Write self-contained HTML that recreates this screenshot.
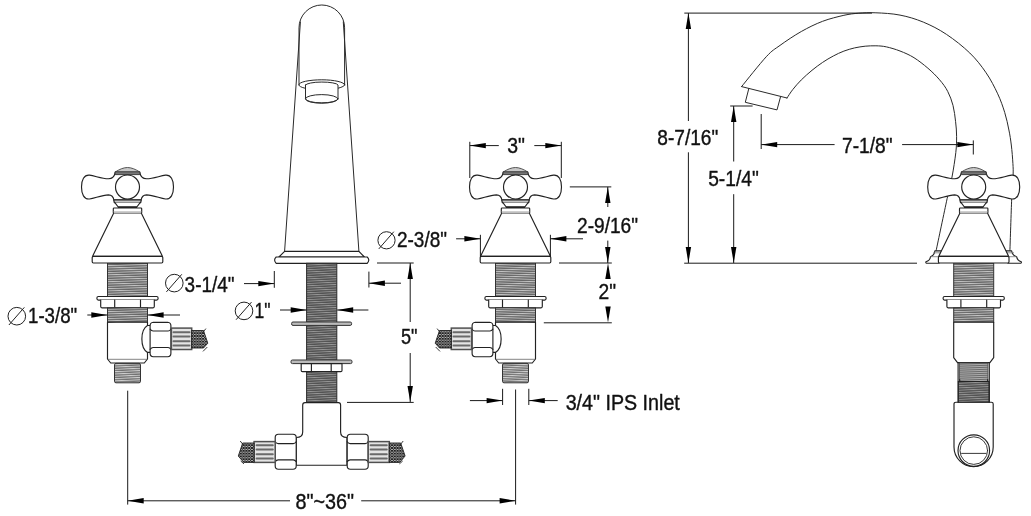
<!DOCTYPE html>
<html><head><meta charset="utf-8"><title>Faucet dimensions</title>
<style>
html,body{margin:0;padding:0;background:#fff;}
body{width:1031px;height:516px;overflow:hidden;font-family:"Liberation Sans",sans-serif;}
svg{display:block;filter:grayscale(1)}
.o{fill:#fff;stroke:#222;stroke-width:1.15;stroke-linejoin:round;stroke-linecap:round}
.n{fill:none;stroke:#222;stroke-width:1.15;stroke-linejoin:round;stroke-linecap:round}
.sp{fill:none;stroke:#2a2a2a;stroke-width:1;stroke-linecap:round}
.lt{fill:none;stroke:#777;stroke-width:0.8}
.wh{fill:none;stroke:#222;stroke-width:0.9}
.k{stroke:#666;stroke-width:1.4}
.k2{stroke:#222;stroke-width:1.6}
.g{fill:#777;stroke:#333;stroke-width:0.9;stroke-linejoin:round}
.dl{stroke:#1a1a1a;stroke-width:1;fill:none}
.ah{fill:#000;stroke:none}
.dia{fill:none;stroke:#222;stroke-width:1}
.th{fill:url(#thr);stroke:#333;stroke-width:1}
.th2{fill:url(#thr2);stroke:#333;stroke-width:1}
.th3{fill:url(#thr3);stroke:#444;stroke-width:0.8}
.thd{fill:url(#thrd);stroke:#2a2a2a;stroke-width:1}
.kn{fill:#e4e4e4;stroke:#505050;stroke-width:1.5}
.knb{stroke:#6a6a6a;stroke-width:2;fill:none;stroke-linecap:round}
.hose{fill:url(#braid);stroke:#222;stroke-width:0.9}
text{font-family:"Liberation Sans",sans-serif;fill:#111;stroke:#111;stroke-width:0.4;stroke-linejoin:round}
</style></head><body>
<svg width="1031" height="516" viewBox="0 0 1031 516">
<defs>
<pattern id="thr" width="60" height="2.3" patternUnits="userSpaceOnUse" patternTransform="rotate(-1.6)">
<rect width="60" height="2.3" fill="#666"/><rect y="0" width="60" height="0.95" fill="#c4c4c4"/>
</pattern>
<pattern id="thrd" width="60" height="2.3" patternUnits="userSpaceOnUse" patternTransform="rotate(-2.6)">
<rect width="60" height="2.3" fill="#525252"/><rect y="0" width="60" height="0.9" fill="#969696"/>
</pattern>
<pattern id="thr2" width="60" height="2.3" patternUnits="userSpaceOnUse" patternTransform="rotate(-2.5)">
<rect width="60" height="2.3" fill="#707070"/><rect y="0" width="60" height="1" fill="#d0d0d0"/>
</pattern>
<pattern id="thr3" width="60" height="2" patternUnits="userSpaceOnUse" patternTransform="rotate(-2)">
<rect width="60" height="2" fill="#6a6a6a"/><rect y="0" width="60" height="0.9" fill="#b4b4b4"/>
</pattern>
<pattern id="braid" width="2.8" height="2.8" patternUnits="userSpaceOnUse">
<rect width="2.8" height="2.8" fill="#fff"/><path d="M-0.5 -0.5 L3.3 3.3 M3.3 -0.5 L-0.5 3.3" stroke="#111" stroke-width="0.95"/>
</pattern>

<g id="vtop">
<path class="o" d="M-12.3 172.6 C-13 176 -15 178.6 -19 178.8 C-26 178.6 -32 176 -38 175.1 C-43.5 174.6 -46 180 -46 186.9 C-46 194 -43.5 199.6 -38 199 C-32 198 -26 195.2 -19 194.9 C-15.5 195 -14 197.5 -13.6 200 L13.6 200 C14 197.5 15.5 195 19 194.9 C26 195.2 32 198 38 199 C43.5 199.6 46 194 46 186.9 C46 180 43.5 174.6 38 175.1 C32 176 26 178.6 19 178.8 C15 178.6 13 176 12.3 172.6 Z"/>
<path class="o" style="fill:#c8c8c8;stroke:#444;stroke-width:0.9" d="M-12.3 172 C-8 169.2 -4 167.6 0 167.5 C4 167.6 8 169.2 12.3 172 Z"/>
<path class="g" d="M-12.4 174.6 L-12.4 171.8 L12.4 171.8 L12.4 174.6 Z"/>
<circle class="o" cx="0" cy="187" r="12"/>
<path class="o" style="stroke-width:1.2;fill:#c4c4c4" d="M-13.8 199.8 L13.8 199.8 L13.2 202.6 L-13.2 202.6 Z"/>
<path class="o" d="M-12.8 202.4 L-9.3 207 L9.3 207 L12.8 202.4"/>
<line class="k2" x1="-9.6" y1="207.2" x2="9.6" y2="207.2"/>
<rect class="o" x="-14.2" y="208" width="28.4" height="5.4" rx="0.8"/>
<line class="lt" x1="-14" y1="211.8" x2="14" y2="211.8" style="stroke:#aaa"/>
<path class="o" d="M-14 213.4 L-35 256.4 L35 256.4 L14 213.4"/>
<rect class="o" x="-35.3" y="256.4" width="70.6" height="6.6" rx="1.2"/>
</g>
<g id="vlow">
<rect class="th" x="-20" y="263" width="40" height="33.5"/>
<rect class="o" x="-30.6" y="296.5" width="61.2" height="3.6" rx="1.5"/>
<path class="o" d="M-26.8 300.1 L-26.8 306.6 Q-26.8 307.8 -25.6 307.8 L25.6 307.8 Q26.8 307.8 26.8 306.6 L26.8 300.1"/>
<line class="o" x1="-12.8" y1="300.1" x2="-12.8" y2="307.8"/>
<line class="o" x1="13" y1="300.1" x2="13" y2="307.8"/>
<rect class="th" x="-20" y="307.8" width="40" height="14.4"/>
</g>
<g id="vfront">
<path class="o" d="M-20 322.2 L20 322.2 L20 325.5 M20 352.4 L20 359 L16.8 363 L-16.8 363 L-20 359 L-20 322.2"/>
<line class="lt" x1="-19.6" y1="359.3" x2="19.6" y2="359.3" style="stroke:#666"/>
<path class="o" d="M20 325.5 C12.5 330 12.5 348 20 352.4"/>
<path class="o" d="M20 325.5 L22.6 325.5 M20 352.4 L22.6 352.4"/>
<rect class="th2" x="-13" y="363.4" width="26" height="19.4" rx="1.5"/>
<path class="o" d="M25.8 322.3 L40.2 322.3 Q43.4 322.6 43.4 325.8 L43.4 353.2 Q43.4 356.4 40.2 356.7 L25.8 356.7 Q22.6 356.4 22.6 353.2 L22.6 325.8 Q22.6 322.6 25.8 322.3 Z"/>
<path class="o" d="M22.6 329.2 Q24 331 25.6 331 L40.6 331 Q42.2 331 43.4 329.2 M22.6 349.3 Q24 347.5 25.6 347.5 L40.6 347.5 Q42.2 347.5 43.4 349.3"/>
<rect class="kn" x="43.9" y="328.1" width="20.3" height="21.4"/>
<path class="knb" d="M46 332.3 H62 M46 336.6 H62 M46 341.2 H62 M46 345.4 H62"/>
<path class="hose" d="M64.2 330.5 L76 330.5 L80.3 343.2 L76 348 L64.2 348 Z"/>
<path class="wh" d="M78.4 328.6 L74.5 333.5 M75.5 351.4 L79.8 347"/>
</g>
<g id="vside">
<path class="o" d="M-20 322.2 L20 322.2 L20 357.6 L16.2 362.6 L-16.2 362.6 L-20 357.6 Z"/>
<rect class="th3" x="-14.2" y="363" width="28.4" height="18.5"/>
<rect class="thd" x="-15.4" y="381.5" width="30.8" height="20.7"/>
<path class="o" d="M-15.6 362.6 L-15.6 402.2 M15.6 362.6 L15.6 402.2"/>
<path class="o" d="M-14 381.5 H14 M-14 381.5 V379.5 M14 381.5 V379.5"/>
</g>
</defs>
<rect width="1031" height="516" fill="#fff"/>
<path class="sp" d="M741.6 86.6 C745.7 81.6 759.9 63.6 766.3 56.7 C772.7 49.8 774.2 49.6 780.0 45.4 C785.8 41.2 794.2 35.5 801.3 31.5 C808.4 27.5 815.5 24.0 822.6 21.3 C829.7 18.6 837.9 16.7 843.9 15.3 C849.9 14.0 853.5 13.6 858.8 13.2 C864.1 12.8 869.0 12.5 875.9 12.8 C882.8 13.1 892.1 13.5 900.0 15.1 C907.9 16.6 915.5 18.9 923.3 22.1 C931.0 25.3 938.8 29.2 946.5 34.4 C954.2 39.5 963.2 46.6 969.8 53.0 C976.4 59.4 981.5 66.0 986.1 72.8 C990.8 79.6 994.6 87.2 997.7 93.8 C1000.8 100.4 1002.8 106.4 1004.7 112.4 C1006.6 118.4 1007.8 124.6 1008.9 130.0 C1010.0 135.4 1010.6 139.4 1011.3 145.0 C1012.0 150.6 1012.6 158.3 1012.9 163.4 C1013.2 168.5 1013.3 169.7 1013.1 175.6 C1012.9 181.5 1012.2 186.2 1011.7 198.7 C1011.2 211.2 1010.2 242.1 1009.9 250.8"/>
<path class="sp" d="M787.0 98.0 C788.0 96.6 790.4 92.5 792.8 89.5 C795.2 86.5 798.1 83.1 801.3 79.9 C804.5 76.7 808.5 73.2 812.0 70.3 C815.5 67.4 819.1 64.8 822.6 62.4 C826.1 60.0 829.8 57.9 833.3 56.0 C836.8 54.1 840.3 52.5 843.9 51.1 C847.5 49.8 851.0 48.7 854.6 47.9 C858.2 47.1 861.7 46.6 865.2 46.2 C868.8 45.9 872.4 45.7 875.9 45.8 C879.4 45.9 882.5 46.0 886.5 46.9 C890.5 47.8 895.4 49.2 900.0 51.0 C904.6 52.8 909.4 54.8 914.0 57.7 C918.6 60.6 923.6 64.5 927.9 68.2 C932.2 71.9 936.3 75.9 939.6 79.8 C942.9 83.7 945.5 87.1 947.7 91.4 C949.9 95.7 951.7 100.4 953.0 105.4 C954.3 110.5 955.0 116.5 955.6 121.7 C956.2 126.9 956.6 131.2 956.6 136.3 C956.6 141.5 956.6 145.8 955.8 152.6 C955.0 159.4 953.5 169.3 952.0 177.0 C950.5 184.7 949.8 186.4 947.1 198.7 C944.5 211.0 937.9 242.1 936.1 250.8"/>
<path class="sp" d="M741.6 86.6 L787 98"/>
<path class="sp" d="M748.8 88.6 L745.3 102.3 L777 109.9 L780.6 96.6"/>
<path class="o" d="M942 250.8 L934.9 250.8 Q934.4 255.4 930.5 256.7 Q930 260.6 925.9 261.7 Q925.4 263.2 927.2 263.2 L939 263.2 L939 256.7 Z"/>
<path class="o" d="M1005 250.8 L1011.6 250.8 Q1012.2 255.4 1016.6 256.7 Q1017.2 260.6 1021.3 261.7 Q1021.8 263.2 1020 263.2 L1008 263.2 L1008 256.7 Z"/>
<path class="lt" d="M933.2 252.8 L940.5 252.8 M930.6 256.7 L939 256.7 M1006.5 252.8 L1014 252.8 M1008 256.7 L1016.5 256.7"/>
<path class="o" d="M956 402.2 L991.4 402.2 Q993.2 402.2 993.2 404 L993.2 447 A19.6 19.6 0 0 1 954 447 L954 404 Q954 402.2 956 402.2 Z"/>
<circle class="n" cx="973.8" cy="450.6" r="15.8"/>
<circle class="n" cx="973.8" cy="450.6" r="13.8" style="stroke-width:0.9"/>
<line class="n" x1="961.6" y1="453.4" x2="986" y2="453.4" style="stroke-width:0.9"/>
<g transform="translate(973.7 0)"><use href="#vlow"/><use href="#vside"/><use href="#vtop"/></g>
<g transform="translate(127.5 0)"><use href="#vlow"/><use href="#vfront"/><use href="#vtop"/></g>
<g transform="translate(515.5 0) scale(-1 1)"><use href="#vlow"/><use href="#vfront"/><use href="#vtop"/></g>
<path class="sp" d="M300.4 22 L284.6 251.3 M343.3 22 L358.9 251.3"/>
<path class="sp" d="M299 85 L299 27.8 A22.8 22.8 0 0 1 344.6 27.8 L344.6 85"/>
<ellipse class="sp" cx="321.8" cy="84.8" rx="22.9" ry="5"/>
<path class="o" style="stroke:#2a2a2a;stroke-width:1" d="M305.5 85 L305.5 98.9 A16.3 4.3 0 0 0 338 98.9 L338 85 A16.3 3.2 0 0 0 305.5 85 Z"/>
<ellipse class="sp" cx="321.75" cy="98.9" rx="16.25" ry="4.3"/>
<path class="o" d="M284.6 251.3 L358.9 251.3 L364.4 257 L278.9 257 Z"/>
<path class="o" d="M276.2 257 L367.2 257 Q370.4 260 367.2 263.4 L276.2 263.4 Q273 260 276.2 257 Z"/>
<rect class="thd" x="306.6" y="263.3" width="30.2" height="139"/>
<rect class="kn" x="291.6" y="322" width="60" height="3.4" rx="1.4" style="fill:#bbb;stroke:#333;stroke-width:1"/>
<rect class="kn" x="291" y="360" width="61" height="3.6" rx="1.4" style="fill:#bbb;stroke:#333;stroke-width:1"/>
<path class="o" d="M301.2 363.6 L301.2 370.4 Q301.2 371.6 302.4 371.6 L340.8 371.6 Q342 371.6 342 370.4 L342 363.6 Z"/>
<path class="n" d="M311.4 363.6 V371.6 M331.2 363.6 V371.6"/>
<path class="o" d="M296.3 437.5 C300.5 437.5 302.7 436 302.7 432 L302.7 405 Q302.7 402.6 305 402.6 L338.4 402.6 Q340.6 402.6 340.6 405 L340.6 432 C340.6 436 342.8 437.5 347 437.5 L347 465.2 L296.3 465.2 Z"/>
<path class="o" d="M278.4 434.2 h14.6 q3.2 0 3.2 3.2 v28.6 q0 3.2 -3.2 3.2 h-14.6 q-3.2 0 -3.2 -3.2 v-28.6 q0 -3.2 3.2 -3.2 Z"/><path class="n" d="M275.2 441.8 q1.2 1.8 3 1.8 h15.0 q1.8 0 3 -1.8 M275.2 461.6 q1.2 -1.8 3 -1.8 h15.0 q1.8 0 3 1.8"/>
<path class="o" d="M350.4 434.2 h14.6 q3.2 0 3.2 3.2 v28.6 q0 3.2 -3.2 3.2 h-14.6 q-3.2 0 -3.2 -3.2 v-28.6 q0 -3.2 3.2 -3.2 Z"/><path class="n" d="M347.2 441.8 q1.2 1.8 3 1.8 h15.0 q1.8 0 3 -1.8 M347.2 461.6 q1.2 -1.8 3 -1.8 h15.0 q1.8 0 3 1.8"/>
<rect class="kn" x="254.1" y="441.6" width="21.1" height="20.8"/>
<path class="knb" d="M256.6 445.2 H272.8 M256.6 449.6 H272.8 M256.6 454.2 H272.8 M256.6 458.6 H272.8"/>
<rect class="kn" x="368.2" y="441.6" width="21.1" height="20.8"/>
<path class="knb" d="M370.6 445.2 H386.8 M370.6 449.6 H386.8 M370.6 454.2 H386.8 M370.6 458.6 H386.8"/>
<path class="hose" d="M254.1 443 L242.7 443 L238.3 456 L243.7 462.4 L254.1 462.4 Z"/>
<path class="hose" d="M389.3 443 L400.7 443 L405.1 456 L399.7 462.4 L389.3 462.4 Z"/>
<path class="wh" d="M240.2 441 L244.1 445.9 M403.2 441 L399.3 445.9 M240.7 461 L244 463.9 M402.7 461 L399.4 463.9"/>
<circle class="dia" cx="16.8" cy="316.2" r="8.8"/><line class="dia" x1="8.9" y1="325.0" x2="24.3" y2="307.4"/>
<text x="28.0" y="323.3" font-size="22.3" textLength="49.2" lengthAdjust="spacingAndGlyphs">1-3/8&quot;</text>
<line class="dl" x1="87.3" y1="315.0" x2="107.3" y2="315.0"/>
<polygon class="ah" points="107.3,315.0 91.3,312.3 91.3,317.7"/>
<line class="dl" x1="147.6" y1="315.0" x2="180.0" y2="315.0"/>
<polygon class="ah" points="147.6,315.0 163.6,312.3 163.6,317.7"/>
<circle class="dia" cx="174.3" cy="283.1" r="8.8"/><line class="dia" x1="166.4" y1="291.9" x2="181.8" y2="274.3"/>
<text x="184.6" y="291.5" font-size="22.3" textLength="49.9" lengthAdjust="spacingAndGlyphs">3-1/4&quot;</text>
<line class="dl" x1="244.0" y1="283.6" x2="274.3" y2="283.6"/>
<polygon class="ah" points="274.3,283.6 258.3,280.9 258.3,286.3"/>
<line class="dl" x1="274.3" y1="271.0" x2="274.3" y2="287.8"/>
<line class="dl" x1="368.9" y1="271.6" x2="368.9" y2="287.5"/>
<line class="dl" x1="368.9" y1="283.2" x2="401.0" y2="283.2"/>
<polygon class="ah" points="368.9,283.2 384.9,280.5 384.9,285.9"/>
<circle class="dia" cx="244.0" cy="310.9" r="8.8"/><line class="dia" x1="236.1" y1="319.7" x2="251.5" y2="302.1"/>
<text x="254.6" y="318.4" font-size="22.3" textLength="16.0" lengthAdjust="spacingAndGlyphs">1&quot;</text>
<line class="dl" x1="280.0" y1="310.0" x2="306.7" y2="310.0"/>
<polygon class="ah" points="306.7,310.0 290.7,307.3 290.7,312.7"/>
<line class="dl" x1="337.2" y1="310.0" x2="368.4" y2="310.0"/>
<polygon class="ah" points="337.2,310.0 353.2,307.3 353.2,312.7"/>
<circle class="dia" cx="386.5" cy="240.3" r="8.6"/><line class="dia" x1="378.8" y1="248.9" x2="393.8" y2="231.7"/>
<text x="397.0" y="247.0" font-size="22.3" textLength="50.0" lengthAdjust="spacingAndGlyphs">2-3/8&quot;</text>
<line class="dl" x1="456.1" y1="238.8" x2="480.4" y2="238.8"/>
<polygon class="ah" points="480.4,238.8 464.4,236.1 464.4,241.5"/>
<line class="dl" x1="480.4" y1="234.8" x2="480.4" y2="256.6"/>
<line class="dl" x1="550.4" y1="234.8" x2="550.4" y2="256.6"/>
<line class="dl" x1="550.4" y1="238.8" x2="583.0" y2="238.8"/>
<polygon class="ah" points="550.4,238.8 566.4,236.1 566.4,241.5"/>
<line class="dl" x1="377.0" y1="263.0" x2="413.7" y2="263.0"/>
<line class="dl" x1="347.0" y1="402.4" x2="413.7" y2="402.4"/>
<line class="dl" x1="410.2" y1="263.0" x2="410.2" y2="322.0"/>
<line class="dl" x1="410.2" y1="353.0" x2="410.2" y2="402.0"/>
<polygon class="ah" points="410.2,263.0 407.5,279.0 412.9,279.0"/>
<polygon class="ah" points="410.2,402.0 407.5,386.0 412.9,386.0"/>
<text x="401.0" y="344.0" font-size="22.3" textLength="16.5" lengthAdjust="spacingAndGlyphs">5&quot;</text>
<line class="dl" x1="469.8" y1="141.8" x2="469.8" y2="178.0"/>
<line class="dl" x1="561.3" y1="141.8" x2="561.3" y2="178.0"/>
<line class="dl" x1="469.8" y1="145.6" x2="498.8" y2="145.6"/>
<line class="dl" x1="534.3" y1="145.6" x2="561.3" y2="145.6"/>
<polygon class="ah" points="469.8,145.6 485.8,142.9 485.8,148.3"/>
<polygon class="ah" points="561.3,145.6 545.3,142.9 545.3,148.3"/>
<text x="507.3" y="153.4" font-size="22.3" textLength="17.7" lengthAdjust="spacingAndGlyphs">3&quot;</text>
<line class="dl" x1="569.8" y1="186.9" x2="611.3" y2="186.9"/>
<line class="dl" x1="559.0" y1="263.0" x2="611.8" y2="263.0"/>
<line class="dl" x1="607.8" y1="186.9" x2="607.8" y2="207.0"/>
<line class="dl" x1="607.8" y1="240.6" x2="607.8" y2="263.0"/>
<polygon class="ah" points="607.8,186.9 605.1,202.9 610.5,202.9"/>
<polygon class="ah" points="607.8,263.0 605.1,247.0 610.5,247.0"/>
<text x="577.0" y="232.5" font-size="22.3" textLength="61.0" lengthAdjust="spacingAndGlyphs">2-9/16&quot;</text>
<line class="dl" x1="543.8" y1="322.8" x2="611.8" y2="322.8"/>
<polygon class="ah" points="608.0,263.0 605.3,279.0 610.7,279.0"/>
<polygon class="ah" points="608.0,322.5 605.3,306.5 610.7,306.5"/>
<text x="598.5" y="298.8" font-size="22.3" textLength="17.5" lengthAdjust="spacingAndGlyphs">2&quot;</text>
<line class="dl" x1="469.9" y1="400.6" x2="502.6" y2="400.6"/>
<polygon class="ah" points="502.6,400.6 486.6,397.9 486.6,403.3"/>
<line class="dl" x1="502.6" y1="388.8" x2="502.6" y2="405.0"/>
<line class="dl" x1="528.8" y1="388.8" x2="528.8" y2="405.0"/>
<line class="dl" x1="528.8" y1="400.6" x2="557.7" y2="400.6"/>
<polygon class="ah" points="528.8,400.6 544.8,397.9 544.8,403.3"/>
<text x="565.7" y="409.5" font-size="22.3" textLength="114.1" lengthAdjust="spacingAndGlyphs">3/4&quot; IPS Inlet</text>
<line class="dl" x1="127.7" y1="390.7" x2="127.7" y2="504.6"/>
<line class="dl" x1="515.6" y1="389.5" x2="515.6" y2="504.6"/>
<line class="dl" x1="127.7" y1="500.8" x2="290.0" y2="500.8"/>
<line class="dl" x1="361.2" y1="500.8" x2="515.6" y2="500.8"/>
<polygon class="ah" points="127.7,500.8 143.7,498.1 143.7,503.5"/>
<polygon class="ah" points="515.6,500.8 499.6,498.1 499.6,503.5"/>
<text x="295.5" y="509.0" font-size="22.3" textLength="58.5" lengthAdjust="spacingAndGlyphs">8&quot;~36&quot;</text>
<line class="dl" x1="684.3" y1="13.1" x2="872.0" y2="13.1"/>
<line class="dl" x1="684.2" y1="263.2" x2="917.0" y2="263.2"/>
<line class="dl" x1="688.4" y1="13.1" x2="688.4" y2="121.0"/>
<line class="dl" x1="688.4" y1="152.3" x2="688.4" y2="263.0"/>
<polygon class="ah" points="688.4,13.1 685.7,29.1 691.1,29.1"/>
<polygon class="ah" points="688.4,263.0 685.7,247.0 691.1,247.0"/>
<text x="657.3" y="144.5" font-size="22.3" textLength="61.0" lengthAdjust="spacingAndGlyphs">8-7/16&quot;</text>
<line class="dl" x1="730.2" y1="106.0" x2="752.6" y2="106.0"/>
<line class="dl" x1="733.7" y1="106.0" x2="733.7" y2="161.5"/>
<line class="dl" x1="733.7" y1="194.2" x2="733.7" y2="263.0"/>
<polygon class="ah" points="733.7,106.0 731.0,122.0 736.4,122.0"/>
<polygon class="ah" points="733.7,263.0 731.0,247.0 736.4,247.0"/>
<text x="708.2" y="186.2" font-size="22.3" textLength="50.6" lengthAdjust="spacingAndGlyphs">5-1/4&quot;</text>
<line class="dl" x1="761.2" y1="114.0" x2="761.2" y2="149.0"/>
<line class="dl" x1="973.3" y1="140.4" x2="973.3" y2="154.5"/>
<line class="dl" x1="761.2" y1="144.6" x2="834.6" y2="144.6"/>
<line class="dl" x1="902.1" y1="144.6" x2="973.3" y2="144.6"/>
<polygon class="ah" points="761.2,144.6 777.2,141.9 777.2,147.3"/>
<polygon class="ah" points="973.3,144.6 957.3,141.9 957.3,147.3"/>
<text x="842.0" y="153.0" font-size="22.3" textLength="50.5" lengthAdjust="spacingAndGlyphs">7-1/8&quot;</text>
</svg></body></html>
